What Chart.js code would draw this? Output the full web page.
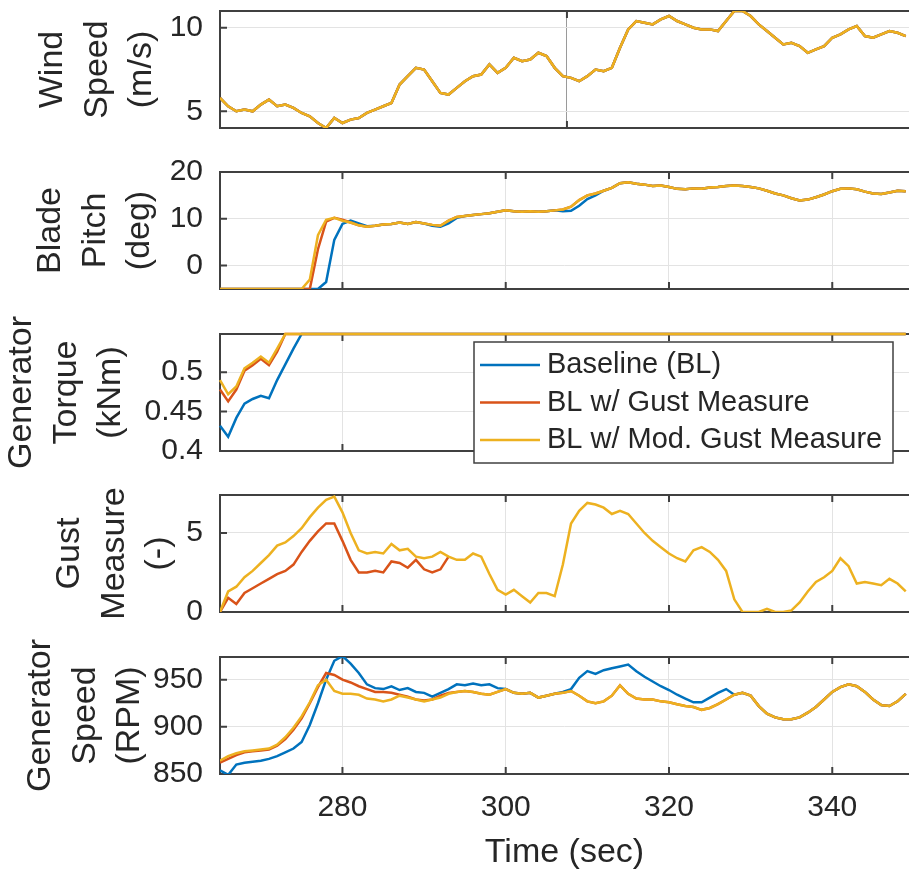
<!DOCTYPE html>
<html>
<head>
<meta charset="utf-8">
<script src="https://cdn.jsdelivr.net/npm/chart.js@4.4.1/dist/chart.umd.min.js"></script>
<style>
  body { margin: 0; background: #fff; width: 909px; height: 875px; overflow: hidden; position: relative; }
  canvas { position: absolute; left: 0; }
</style>
</head>
<body>
<canvas id="wind"></canvas>
<canvas id="pitch"></canvas>
<canvas id="torque"></canvas>
<canvas id="gust"></canvas>
<canvas id="speed"></canvas>
<script>
// time (sec), one sample per second
const time = [
  265, 266, 267, 268, 269, 270, 271, 272, 273, 274,
  275, 276, 277, 278, 279, 280, 281, 282, 283, 284,
  285, 286, 287, 288, 289, 290, 291, 292, 293, 294,
  295, 296, 297, 298, 299, 300, 301, 302, 303, 304,
  305, 306, 307, 308, 309, 310, 311, 312, 313, 314,
  315, 316, 317, 318, 319, 320, 321, 322, 323, 324,
  325, 326, 327, 328, 329, 330, 331, 332, 333, 334,
  335, 336, 337, 338, 339, 340, 341, 342, 343, 344,
  345, 346, 347, 348, 349
];
const xTicks = [280, 300, 320, 340];
const windXTicks = [307.5];

const seriesNames = ['Baseline (BL)', 'BL w/ Gust Measure', 'BL w/ Mod. Gust Measure'];

// wind speed (m/s), same input for all three runs
const windSpeed = [
  5.8, 5.3, 5.0, 5.1, 5.0, 5.4, 5.7, 5.3, 5.4, 5.2,
  4.9, 4.7, 4.3, 4.0, 4.6, 4.3, 4.5, 4.6, 4.9, 5.1,
  5.3, 5.5, 6.6, 7.1, 7.6, 7.5, 6.8, 6.1, 6.0, 6.4,
  6.8, 7.1, 7.2, 7.8, 7.3, 7.6, 8.2, 8.0, 8.1, 8.5,
  8.3, 7.6, 7.1, 7.0, 6.8, 7.1, 7.5, 7.4, 7.6, 8.8,
  9.9, 10.4, 10.3, 10.2, 10.5, 10.7, 10.4, 10.2, 10.0, 9.9,
  9.9, 9.8, 10.4, 11.0, 11.0, 10.7, 10.2, 9.8, 9.4, 9.0,
  9.1, 8.9, 8.5, 8.7, 8.9, 9.4, 9.6, 9.9, 10.1, 9.5,
  9.4, 9.6, 9.8, 9.7, 9.5
];

// blade pitch (deg)
const pitchBL = [
  -5, -5, -5, -5, -5, -5, -5, -5, -5, -5,
  -5, -5, -5, -3.5, 5.5, 8.9, 9.6, 9.0, 8.4, 8.5,
  8.8, 8.9, 9.2, 8.9, 9.3, 9.0, 8.5, 8.3, 9.0, 10.2,
  10.6, 10.8, 11.0, 11.2, 11.5, 11.8, 11.6, 11.5, 11.6, 11.5,
  11.6, 11.8, 11.6, 11.7, 12.8, 14.2, 15.0, 16.0, 16.6, 17.6,
  17.8, 17.5, 17.3, 17.0, 17.1, 16.8, 16.4, 16.3, 16.5, 16.4,
  16.7, 16.8, 17.0, 17.1, 17.0, 16.8, 16.5, 16.0, 15.4, 15.0,
  14.4, 13.9, 14.1, 14.6, 15.2, 15.9, 16.4, 16.5, 16.3, 15.8,
  15.4, 15.3, 15.6, 16.0, 15.9
];
const pitchGM = [
  -5, -5, -5, -5, -5, -5, -5, -5, -5, -5,
  -5, -5, 3.5, 9.4, 10.2, 9.8, 9.2, 8.6, 8.3, 8.5,
  8.8, 8.9, 9.2, 8.9, 9.3, 9.0, 8.7, 8.5, 9.6, 10.4,
  10.6, 10.8, 11.0, 11.2, 11.5, 11.8, 11.6, 11.5, 11.6, 11.5,
  11.6, 11.8, 12.0, 12.6, 14.0, 15.0, 15.4, 16.0, 16.6, 17.6,
  17.8, 17.5, 17.3, 17.0, 17.1, 16.8, 16.4, 16.3, 16.5, 16.4,
  16.7, 16.8, 17.0, 17.1, 17.0, 16.8, 16.5, 16.0, 15.4, 15.0,
  14.4, 13.9, 14.1, 14.6, 15.2, 15.9, 16.4, 16.5, 16.3, 15.8,
  15.4, 15.3, 15.6, 16.0, 15.9
];
const pitchMGM = [
  -5, -5, -5, -5, -5, -5, -5, -5, -5, -5,
  -5, -3, 6.5, 9.8, 10.2, 9.6, 9.2, 8.6, 8.3, 8.5,
  8.8, 8.9, 9.2, 8.9, 9.3, 9.0, 8.7, 8.5, 9.6, 10.4,
  10.6, 10.8, 11.0, 11.2, 11.5, 11.8, 11.6, 11.5, 11.6, 11.5,
  11.6, 11.8, 12.0, 12.6, 14.0, 15.0, 15.4, 16.0, 16.6, 17.6,
  17.8, 17.5, 17.3, 17.0, 17.1, 16.8, 16.4, 16.3, 16.5, 16.4,
  16.7, 16.8, 17.0, 17.1, 17.0, 16.8, 16.5, 16.0, 15.4, 15.0,
  14.4, 13.9, 14.1, 14.6, 15.2, 15.9, 16.4, 16.5, 16.3, 15.8,
  15.4, 15.3, 15.6, 16.0, 15.9
];

// generator torque (kNm), saturated at rated value after ~275 s
const torqueTime = [265, 266, 267, 268, 269, 270, 271, 272, 273, 274, 275, 349];
const torqueBL  = [0.432, 0.418, 0.442, 0.460, 0.466, 0.470, 0.467, 0.490, 0.510, 0.530, 0.5485, 0.5485];
const torqueGM  = [0.478, 0.463, 0.478, 0.502, 0.509, 0.517, 0.509, 0.526, 0.5485, 0.5485, 0.5485, 0.5485];
const torqueMGM = [0.490, 0.472, 0.482, 0.505, 0.512, 0.520, 0.512, 0.530, 0.5485, 0.5485, 0.5485, 0.5485];

// gust measure (-)
const gustTimeGM = [
  265, 266, 267, 268, 269, 270, 271, 272, 273, 274,
  275, 276, 277, 278, 279, 280, 281, 282, 283, 284,
  285, 286, 287, 288, 289, 290, 291, 292, 293
];
const gustGM = [
  0, 0.9, 0.5, 1.2, 1.5, 1.8, 2.1, 2.4, 2.6, 3.0,
  3.8, 4.5, 5.1, 5.6, 5.6, 4.5, 3.3, 2.5, 2.5, 2.6,
  2.5, 3.2, 3.1, 2.8, 3.3, 2.7, 2.5, 2.7, 3.5
];
const gustMGM = [
  0, 1.3, 1.6, 2.2, 2.6, 3.1, 3.6, 4.2, 4.4, 4.8,
  5.3, 6.0, 6.6, 7.1, 7.3, 6.3, 5.0, 3.9, 3.7, 3.8,
  3.7, 4.3, 3.9, 4.0, 3.5, 3.4, 3.5, 3.8, 3.5, 3.3,
  3.3, 3.7, 3.5, 2.4, 1.4, 1.1, 1.4, 1.0, 0.6, 1.2,
  1.2, 1.0, 3.0, 5.6, 6.4, 6.9, 6.8, 6.6, 6.2, 6.4,
  6.2, 5.6, 5.0, 4.5, 4.1, 3.7, 3.4, 3.2, 3.9, 4.1,
  3.8, 3.3, 2.6, 0.8, 0, 0, 0, 0.2, 0, 0,
  0.1, 0.6, 1.3, 1.9, 2.2, 2.6, 3.4, 2.9, 1.8, 1.9,
  1.8, 1.7, 2.1, 1.8, 1.3
];

// generator speed (RPM)
const speedBL = [
  854, 849, 860, 862, 863, 864, 866, 869, 873, 877,
  884, 902, 925, 950, 970, 975, 967, 957, 945, 941,
  940, 943, 939, 941, 937, 936, 932, 936, 940, 945,
  944, 946, 944, 945, 941, 940, 936, 935, 936, 931,
  933, 935, 937, 940, 952, 959, 956, 960, 962, 964,
  966, 959, 953, 948, 943, 939, 934, 930, 926, 926,
  931, 936, 940, 934, 936, 933, 922, 914, 910, 908,
  908, 910, 915, 921, 929, 937, 942, 945, 943, 937,
  929, 923, 922, 927, 935
];
const speedGM = [
  862, 866, 870, 873, 874, 875, 876, 880, 887, 897,
  909, 925, 942, 957, 955, 950, 947, 943, 940, 937,
  937, 936, 934, 932, 929, 928, 929, 933, 936, 937,
  938, 937, 935, 934, 937, 940, 936, 935, 936, 931,
  933, 935, 936, 938, 933, 927, 925, 927, 933, 944,
  935, 930, 929, 929, 927, 926, 924, 922, 921, 918,
  920, 924, 929, 934, 936, 933, 922, 914, 910, 908,
  908, 910, 915, 921, 929, 937, 942, 945, 943, 937,
  929, 923, 922, 927, 935
];
const speedMGM = [
  864, 869, 872, 874, 875, 876, 877, 881, 889, 899,
  911, 926, 944, 950, 938, 935, 935, 934, 930, 929,
  927, 929, 933, 931, 929, 927, 929, 931, 935, 937,
  938, 937, 935, 934, 937, 940, 936, 935, 936, 931,
  933, 935, 936, 938, 933, 927, 925, 927, 933, 944,
  935, 930, 929, 929, 927, 926, 924, 922, 921, 918,
  920, 924, 929, 934, 936, 933, 922, 914, 910, 908,
  908, 910, 915, 921, 929, 937, 942, 945, 943, 937,
  929, 923, 922, 927, 935
];

const BLUE = '#0072BD', ORANGE = '#D95319', YELLOW = '#EDB120';
const INK = '#262626';
const GRID = '#e3e3e3';
const W = 909, H = 875, AXIS_W = 220, PLOT_H = 117, PAD = 36;

Chart.defaults.font.family = '"Liberation Sans", Arial, Helvetica, sans-serif';
Chart.defaults.color = INK;

// MATLAB style box with inward tick marks
const frame = {
  id: 'frame',
  beforeDatasetsDraw(chart) {
    const {ctx, chartArea: a, scales} = chart;
    ctx.save();
    ctx.strokeStyle = '#404040';
    ctx.lineWidth = 2;
    ctx.beginPath();
    ctx.moveTo(a.right + 2, a.top);
    ctx.lineTo(a.left, a.top);
    ctx.lineTo(a.left, a.bottom);
    ctx.lineTo(a.right + 2, a.bottom);
    scales.x.ticks.forEach(t => {
      const x = scales.x.getPixelForValue(t.value);
      ctx.moveTo(x, a.bottom); ctx.lineTo(x, a.bottom - 7);
      ctx.moveTo(x, a.top); ctx.lineTo(x, a.top + 7);
    });
    scales.y.ticks.forEach(t => {
      const y = scales.y.getPixelForValue(t.value);
      ctx.moveTo(a.left, y); ctx.lineTo(a.left + 7, y);
    });
    ctx.stroke();
    ctx.restore();
  }
};

// boxed legend inside the torque panel
const boxLegend = {
  id: 'boxLegend',
  afterDraw(chart) {
    const {ctx, chartArea: a} = chart;
    const x0 = a.left + 254, y0 = a.top + 8, w = 419, h = 121;
    ctx.save();
    ctx.fillStyle = '#fff';
    ctx.fillRect(x0, y0, w, h);
    ctx.strokeStyle = '#404040';
    ctx.lineWidth = 1.5;
    ctx.strokeRect(x0, y0, w, h);
    ctx.font = '29px "Liberation Sans", Arial, sans-serif';
    ctx.textBaseline = 'middle';
    chart.data.datasets.forEach((ds, i) => {
      const y = y0 + 23 + i * 37.5;
      ctx.strokeStyle = ds.borderColor;
      ctx.lineWidth = 2.5;
      ctx.beginPath();
      ctx.moveTo(x0 + 6, y);
      ctx.lineTo(x0 + 66, y);
      ctx.stroke();
      ctx.fillStyle = INK;
      ctx.fillText(ds.label, x0 + 73, y);
    });
    ctx.restore();
  }
};

function line(label, xs, ys, color, order) {
  return {label: label, x: xs, y: ys, color: color, order: order};
}

function makePanel(id, p) {
  const last = !!p.last;
  const canvas = document.getElementById(id);
  canvas.width = W;
  canvas.height = last ? H - (p.top - PAD) : PLOT_H + 2 * PAD;
  canvas.style.top = (p.top - PAD) + 'px';

  const datasets = p.series.map(s => {
    const ds = {
      label: s.label,
      data: s.x.map((t, i) => ({x: t, y: s.y[i]})),
      borderColor: s.color,
      backgroundColor: s.color,
      borderWidth: 2.5,
      pointRadius: 0,
      tension: 0,
      fill: false,
      order: s.order
    };
    if (p.clip) ds.clip = p.clip;
    return ds;
  });

  return new Chart(canvas, {
    type: 'line',
    data: {datasets: datasets},
    options: {
      responsive: false,
      animation: false,
      devicePixelRatio: 1,
      layout: {padding: {top: PAD, bottom: last ? 0 : PAD, left: 0, right: 0}},
      plugins: {legend: {display: false}, tooltip: {enabled: false}},
      scales: {
        x: {
          type: 'linear',
          min: 265,
          max: 349.4,
          afterBuildTicks: ax => { ax.ticks = p.xTicks.map(v => ({value: v})); },
          afterFit: ax => { ax.height = last ? H - (p.top + PLOT_H) : 0; },
          grid: {color: p.xGrid || GRID, drawTicks: false},
          border: {display: false},
          ticks: {display: last, padding: 16, font: {size: 30}, color: INK, callback: v => String(v)},
          title: {display: last, text: 'Time (sec)', font: {size: 34}, color: INK, padding: {top: 0, bottom: 2}}
        },
        y: {
          min: p.yMin,
          max: p.yMax,
          afterBuildTicks: ax => { ax.ticks = p.yTicks.map(v => ({value: v})); },
          afterFit: ax => { ax.width = AXIS_W; },
          grid: {color: GRID, drawTicks: false},
          border: {display: false},
          ticks: {padding: 17, font: {size: 30}, color: INK, callback: v => String(v)},
          title: {
            display: true,
            text: p.title,
            font: {size: 34, lineHeight: 1.3},
            color: INK,
            padding: {top: p.titlePad, bottom: 0}
          }
        }
      }
    },
    plugins: p.legend ? [frame, boxLegend] : [frame]
  });
}

makePanel('wind', {
  top: 11, yMin: 4, yMax: 11, yTicks: [5, 10],
  title: ['Wind', 'Speed', '(m/s)'], titlePad: 31,
  xTicks: windXTicks, xGrid: '#9a9a9a',
  series: [
    line(seriesNames[0], time, windSpeed, BLUE, 2),
    line(seriesNames[1], time, windSpeed, ORANGE, 1),
    line(seriesNames[2], time, windSpeed, YELLOW, 0)
  ]
});

makePanel('pitch', {
  top: 172, yMin: -5, yMax: 20, yTicks: [0, 10, 20],
  title: ['Blade', 'Pitch', '(deg)'], titlePad: 29,
  xTicks: xTicks,
  series: [
    line(seriesNames[0], time, pitchBL, BLUE, 2),
    line(seriesNames[1], time, pitchGM, ORANGE, 1),
    line(seriesNames[2], time, pitchMGM, YELLOW, 0)
  ]
});

makePanel('torque', {
  top: 334, yMin: 0.4, yMax: 0.5485, yTicks: [0.4, 0.45, 0.5],
  title: ['Generator', 'Torque', '(kNm)'], titlePad: 0,
  xTicks: xTicks, clip: 4, legend: true,
  series: [
    line(seriesNames[0], torqueTime, torqueBL, BLUE, 2),
    line(seriesNames[1], torqueTime, torqueGM, ORANGE, 1),
    line(seriesNames[2], torqueTime, torqueMGM, YELLOW, 0)
  ]
});

makePanel('gust', {
  top: 495, yMin: 0, yMax: 7.4, yTicks: [0, 5],
  title: ['Gust', 'Measure', '(-)'], titlePad: 48,
  xTicks: xTicks,
  series: [
    line(seriesNames[1], gustTimeGM, gustGM, ORANGE, 1),
    line(seriesNames[2], time, gustMGM, YELLOW, 0)
  ]
});

makePanel('speed', {
  top: 657, yMin: 850, yMax: 974, yTicks: [850, 900, 950],
  title: ['Generator', 'Speed', '(RPM)'], titlePad: 19,
  xTicks: xTicks, last: true,
  series: [
    line(seriesNames[0], time, speedBL, BLUE, 2),
    line(seriesNames[1], time, speedGM, ORANGE, 1),
    line(seriesNames[2], time, speedMGM, YELLOW, 0)
  ]
});
</script>
</body>
</html>
